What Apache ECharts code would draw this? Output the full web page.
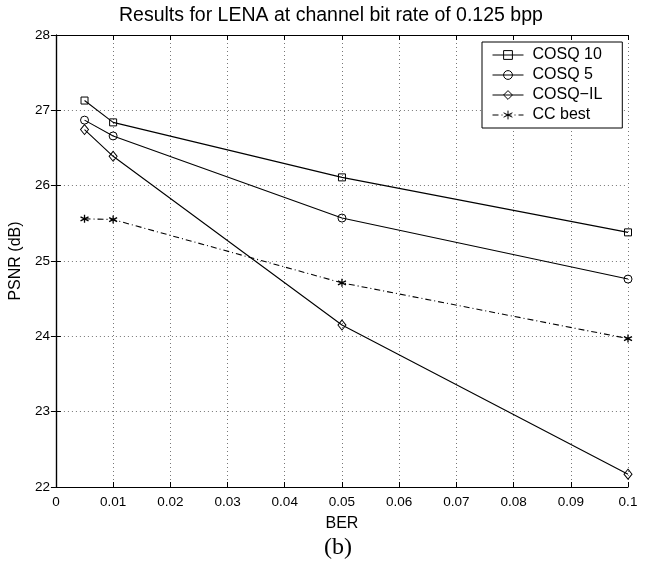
<!DOCTYPE html>
<html>
<head>
<meta charset="utf-8">
<script src="https://cdn.jsdelivr.net/npm/echarts@6/dist/echarts.min.js"></script>
<style>
  html, body { margin: 0; padding: 0; background: #fff; }
  #chart { width: 645px; height: 567px; }
</style>
</head>
<body>
<div id="chart"></div>
<script>
// Bit error rates of the channel
const ber = [0.005, 0.01, 0.05, 0.1];

// PSNR (dB) for each scheme
const cosq10 = [27.13, 26.84, 26.11, 25.38];
const cosq5 = [26.87, 26.66, 25.57, 24.76];
const cosqIL = [26.745, 26.39, 24.15, 22.17];
const ccBest = [25.56, 25.55, 24.71, 23.97];

const seriesNames = ['COSQ 10', 'COSQ 5', 'COSQ\u2212IL', 'CC best'];

// Axis ranges
const xRange = { min: 0, max: 0.1, interval: 0.01 };
const yRange = { min: 22, max: 28, interval: 1 };

const FONT = 'Liberation Sans, Arial, Helvetica, sans-serif';
const asterisk = 'path://M5,0L5,10M0.67,2.5L9.33,7.5M0.67,7.5L9.33,2.5';

function pairs(values) {
  return ber.map((b, i) => [b, values[i]]);
}

function lineSeries(name, values, symbol, size, dash) {
  return {
    name: name,
    type: 'line',
    data: pairs(values),
    symbol: symbol,
    symbolSize: size,
    showSymbol: true,
    lineStyle: { color: '#000', width: 1.1, type: dash || 'solid' },
    itemStyle: { color: 'rgba(0,0,0,0)', borderColor: '#000', borderWidth: 1 },
    emphasis: { disabled: true },
    z: 5
  };
}

const chart = echarts.init(document.getElementById('chart'), null, { renderer: 'canvas' });

const axisCommon = {
  axisLine: { show: true, lineStyle: { color: '#000', width: 1.2 } },
  axisTick: { show: true, inside: true, length: 5, lineStyle: { color: '#000', width: 1 } }
};

const gridLine = { show: true, lineStyle: { color: '#777', width: 1, type: [1, 3] } };

const ccSeries = lineSeries(seriesNames[3], ccBest, asterisk, 8, [6, 3, 1, 3]);
ccSeries.itemStyle = { color: '#000', borderColor: '#000', borderWidth: 1.3 };

chart.setOption({
  animation: false,
  backgroundColor: '#fff',
  textStyle: { fontFamily: FONT, color: '#000' },
  grid: { left: 53, top: 35, right: 17, bottom: 80, containLabel: false },
  xAxis: [
    Object.assign({
      type: 'value',
      min: xRange.min, max: xRange.max, interval: xRange.interval,
      position: 'bottom',
      name: 'BER',
      nameLocation: 'middle',
      nameGap: 29,
      nameTextStyle: { fontSize: 16, color: '#000', fontFamily: FONT },
      axisLabel: { fontSize: 13.5, color: '#000', margin: 8, fontFamily: FONT },
      splitLine: gridLine
    }, axisCommon),
    Object.assign({
      type: 'value',
      min: xRange.min, max: xRange.max, interval: xRange.interval,
      position: 'top',
      axisLabel: { show: false },
      splitLine: { show: false }
    }, axisCommon)
  ],
  yAxis: [
    Object.assign({
      type: 'value',
      min: yRange.min, max: yRange.max, interval: yRange.interval,
      position: 'left',
      name: 'PSNR (dB)',
      nameLocation: 'middle',
      nameGap: 25,
      nameTextStyle: { fontSize: 16, color: '#000', fontFamily: FONT },
      axisLabel: { fontSize: 13.5, color: '#000', margin: 6, fontFamily: FONT },
      splitLine: gridLine
    }, axisCommon),
    Object.assign({
      type: 'value',
      min: yRange.min, max: yRange.max, interval: yRange.interval,
      position: 'right',
      axisLabel: { show: false },
      splitLine: { show: false }
    }, axisCommon)
  ],
  legend: {
    orient: 'vertical',
    left: 482,
    top: 42,
    padding: [5, 20, 5, 10],
    itemGap: 4,
    itemWidth: 31,
    itemHeight: 11,
    backgroundColor: '#fff',
    borderColor: '#000',
    borderWidth: 1,
    borderRadius: 0,
    selectedMode: false,
    lineStyle: { width: 1 },
    itemStyle: { borderWidth: 1 },
    textStyle: { fontSize: 16, lineHeight: 16, color: '#000', fontFamily: FONT, padding: [0, 0, 0, 4] },
    data: seriesNames
  },
  series: [
    lineSeries(seriesNames[0], cosq10, 'rect', 7),
    lineSeries(seriesNames[1], cosq5, 'circle', 8),
    lineSeries(seriesNames[2], cosqIL, 'diamond', [8, 10]),
    ccSeries
  ],
  graphic: [
    {
      type: 'text',
      left: 341 - 222,
      top: 6,
      style: {
        text: 'Results for LENA at channel bit rate of 0.125 bpp',
        font: '19.5px ' + FONT,
        fill: '#000'
      }
    },
    {
      type: 'text',
      left: 324,
      top: 536,
      style: {
        text: '(b)',
        font: '24px "Liberation Serif", "DejaVu Serif", serif',
        fill: '#000'
      }
    }
  ]
});
</script>
</body>
</html>
